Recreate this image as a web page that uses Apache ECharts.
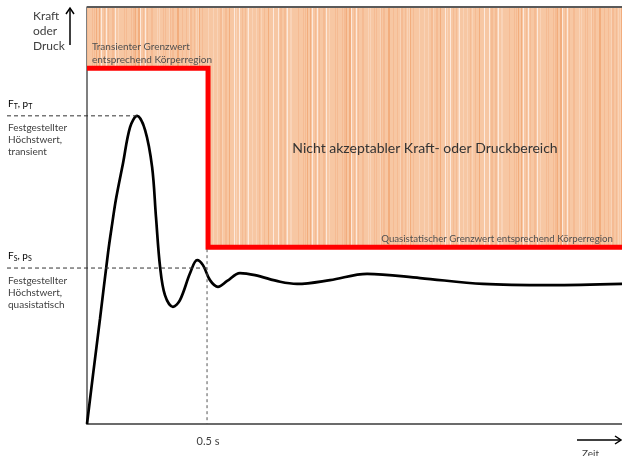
<!DOCTYPE html>
<html><head><meta charset="utf-8">
<script src="https://cdn.jsdelivr.net/npm/echarts@6/dist/echarts.min.js"></script>
<style>html,body{margin:0;padding:0;background:#fff}#c{width:622px;height:456px}</style>
</head><body><div id="c"></div>
<script>
// ---- data ----
const X_MAX = 2.21;          // time axis extent (s)
const Y_MAX = 100;           // force/pressure axis extent (arbitrary units)
const limitTime = 0.5;       // s
const transientLimit = 85.3;
const quasiLimit = 42.4;
const peakTransient = [0.207, 73.9];   // F_T, p_T
const peakQuasi = [0.497, 37.4];       // F_S, p_S level
const curveT = [0, 0.0248, 0.0537, 0.0868, 0.104, 0.120, 0.149, 0.178, 0.207, 0.240, 0.269, 0.285, 0.302, 0.322, 0.355, 0.384, 0.426, 0.455, 0.479, 0.508, 0.541, 0.579, 0.632, 0.694, 0.798, 0.868, 1.004, 1.157, 1.376, 1.636, 1.913, 2.21];
const curveF = [0, 11.8, 25.2, 41.0, 48.0, 54.0, 62.6, 71.2, 73.9, 70.5, 61.6, 49.6, 37.6, 30.9, 28.1, 29.7, 36.2, 39.3, 38.1, 34.5, 32.9, 34.3, 36.2, 35.7, 34.1, 33.6, 34.5, 36.0, 35.0, 33.6, 33.3, 33.6];
const xTickValues = [0.5];
const xTickLabels = ['0.5 s'];

// ---- stripe pattern (decorative texture) ----
const pc = document.createElement('canvas');
pc.width = 211; pc.height = 4;
const pctx = pc.getContext('2d');
pctx.fillStyle = '#f7c7a3'; pctx.fillRect(0, 0, pc.width, pc.height);
const shades = ['#f7c7a3','#f5bb93','#f9d3b7','#f2ad7d','#fde9dc'];
for (let i = 0; i < pc.width; i++) {
  let k = (i * 7 + (i * i) % 13 + (i % 5) * 3) % 30;
  let c = k < 18 ? shades[0] : k < 24 ? shades[1] : k < 27 ? shades[2] : k < 29 ? shades[3] : shades[4];
  pctx.fillStyle = c; pctx.fillRect(i, 0, 1, 4);
}

const chart = echarts.init(document.getElementById('c'));
const FONT = 'Lato, "Open Sans", sans-serif';
const option = {
  animation: false,
  grid: { left: 87, right: 0, top: 7, bottom: 32, show: false },
  xAxis: {
    type: 'value', min: 0, max: X_MAX,
    splitLine: { show: false },
    axisTick: { show: false },
    axisLine: { show: true, onZero: false, lineStyle: { color: '#6b6b6b', width: 2 } },
    axisLabel: {
      show: true, customValues: xTickValues, margin: 12,
      formatter: v => xTickLabels[xTickValues.indexOf(v)] || '',
      color: '#404040', fontSize: 11, fontFamily: FONT
    }
  },
  yAxis: {
    type: 'value', min: 0, max: Y_MAX,
    splitLine: { show: false }, axisTick: { show: false }, axisLabel: { show: false },
    axisLine: { show: true, onZero: false, lineStyle: { color: '#555', width: 1.5 } }
  },
  series: [
    {
      type: 'line', name: 'limit', symbol: 'none',
      data: [[0, transientLimit], [limitTime, transientLimit], [limitTime, quasiLimit], [X_MAX, quasiLimit]],
      lineStyle: { color: '#ff0000', width: 5, join: 'miter', cap: 'butt' },
      areaStyle: { origin: 'end', color: { image: pc, repeat: 'repeat' }, opacity: 1 },
      z: 2
    },
    {
      type: 'line', name: 'curve', symbol: 'none', smooth: 0.35,
      data: curveT.map((t, i) => [t, curveF[i]]),
      lineStyle: { color: '#000', width: 2.7 },
      z: 5
    }
  ]
};
chart.setOption(option);

function P(x, y) { return chart.convertToPixel({ gridIndex: 0 }, [x, y]); }
const leftX = 7;
const pT = P(peakTransient[0], peakTransient[1]);
const pS = P(peakQuasi[0], peakQuasi[1]);
const pV1 = P(limitTime, quasiLimit);
const pV0 = P(limitTime, 0);
const topL = P(0, Y_MAX), topR = P(X_MAX, Y_MAX);
const dash = { stroke: '#333', lineWidth: 1, lineDash: [4, 3] };
const txt = (text, x, y, size, color, align) => ({
  type: 'text', x: x, y: y, z: 20,
  style: { text: text, font: size + 'px ' + FONT, fill: color || '#404040', align: align || 'left', verticalAlign: 'middle' }
});
const subRich = {
  a: { fontSize: 10, fontFamily: FONT, color: '#404040' },
  s: { fontSize: 7, fontFamily: FONT, color: '#404040', verticalAlign: 'bottom', padding: [5, 0, 0, 0] }
};
chart.setOption({
  graphic: [
    { type: 'line', z: 10, shape: { x1: topL[0], y1: topL[1], x2: topR[0], y2: topR[1] }, style: { stroke: '#5a5a5a', lineWidth: 2 } },
    { type: 'line', z: 10, shape: { x1: leftX, y1: pT[1], x2: pT[0], y2: pT[1] }, style: dash },
    { type: 'line', z: 10, shape: { x1: leftX, y1: pS[1], x2: pS[0], y2: pS[1] }, style: dash },
    { type: 'line', z: 10, shape: { x1: pV1[0] - 1, y1: pV1[1] + 2, x2: pV0[0] - 1, y2: pV0[1] }, style: { stroke: '#555', lineWidth: 1, lineDash: [3, 3] } },
    // axis arrows
    { type: 'line', z: 10, shape: { x1: 70, y1: 45, x2: 70, y2: 9 }, style: { stroke: '#000', lineWidth: 1.5 } },
    { type: 'polyline', z: 10, shape: { points: [[66, 14], [70, 8], [74, 14]] }, style: { stroke: '#000', lineWidth: 1.5, fill: null } },
    { type: 'line', z: 10, shape: { x1: 577, y1: 440, x2: 620, y2: 440 }, style: { stroke: '#000', lineWidth: 1.5 } },
    { type: 'polyline', z: 10, shape: { points: [[615, 436], [621, 440], [615, 444]] }, style: { stroke: '#000', lineWidth: 1.5, fill: null } },
    txt('Kraft', 33, 16, 12),
    txt('oder', 33, 31, 12),
    txt('Druck', 33, 46, 12),
    txt('Zeit', 582, 454, 10),
    { type: 'text', x: 8, y: 104, z: 20, style: { text: '{a|F}{s|T}{a|, p}{s|T}', rich: subRich, verticalAlign: 'middle' } },
    txt('Festgestellter', 8, 128, 10),
    txt('Höchstwert,', 8, 140, 10),
    txt('transient', 8, 152, 10),
    { type: 'text', x: 8, y: 256, z: 20, style: { text: '{a|F}{s|S}{a|, p}{s|S}', rich: subRich, verticalAlign: 'middle' } },
    txt('Festgestellter', 8, 281, 10),
    txt('Höchstwert,', 8, 293, 10),
    txt('quasistatisch', 8, 305, 10),
    txt('Transienter Grenzwert', 92, 47, 10, '#505050'),
    txt('entsprechend Körperregion', 92, 60, 10, '#505050'),
    txt('Nicht akzeptabler Kraft- oder Druckbereich', 425, 148, 14, '#333333', 'center'),
    txt('Quasistatischer Grenzwert entsprechend Körperregion', 613, 239, 9.7, '#505050', 'right')
  ]
});
</script></body></html>
